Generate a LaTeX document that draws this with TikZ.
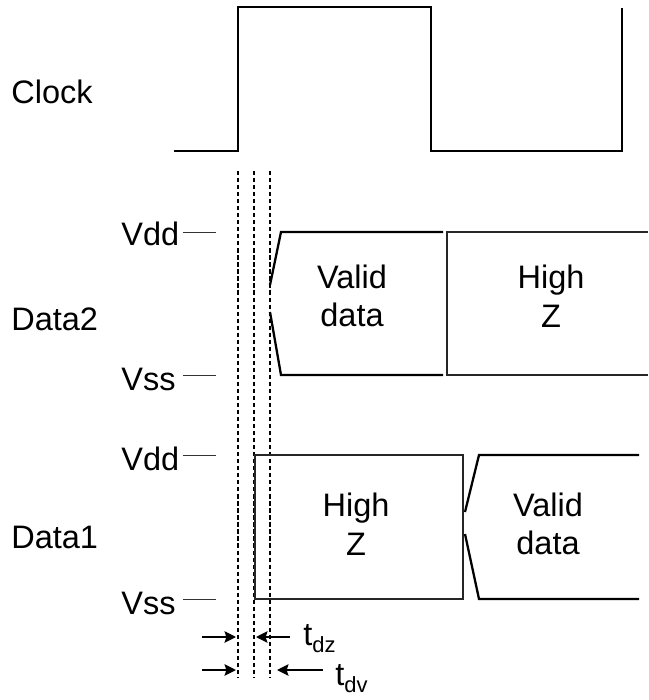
\documentclass[tikz,border=0pt]{standalone}
\usepackage{fontspec}
\setmainfont{Liberation Sans}
\usetikzlibrary{arrows.meta}

\newcommand{\tlabel}[1]{t\raisebox{-4.5pt}{\fontsize{12.5}{13}\selectfont #1}}

\begin{document}
\begin{tikzpicture}[
    x=0.02cm, y=-0.02cm,
    every node/.style={font=\fontsize{18.5}{22}\selectfont, inner sep=0pt},
    wave/.style={line width=1.3pt, line join=miter},
    hiz/.style={line width=0.8pt, black!85},
    lvl/.style={line width=0.5pt, black!80},
    guide/.style={line width=0.8pt, dash pattern=on 2.4pt off 1.6pt},
    meas/.style={line width=1.2pt, -{Stealth[length=6.5pt, width=6.5pt, inset=1pt]}},
    txt/.style={align=center},
]
\useasboundingbox (0,0) rectangle (649,700);

% Signal names
\node[anchor=west] (clk) at (11,92) {Clock};
\node[anchor=west] (dtwo) at (11,319) {Data2};
\node[anchor=west] (done) at (11,537) {Data1};

% Level marks
\node[anchor=west] (vddtwo) at (121,234) {Vdd};
\node[anchor=west] (vsstwo) at (121,379) {Vss};
\node[anchor=west] (vddone) at (121,459) {Vdd};
\node[anchor=west] (vssone) at (121,603) {Vss};
\draw[lvl] (183,232) -- (216,232);
\draw[lvl] (183,375) -- (216,375);
\draw[lvl] (183,455) -- (216,455);
\draw[lvl] (183,599) -- (216,599);

% Clock
\draw[wave] (174,151) -- (238,151) -- (238,7) -- (431,7) -- (431,151)
    -- (622,151) -- (622,8);

% Timing guides
\coordinate (ga) at (238,171);
\coordinate (gb) at (254,171);
\coordinate (gc) at (270,171);
\coordinate (gaend) at (238,678);
\coordinate (gbend) at (254,678);
\coordinate (gcend) at (270,678);
\draw[guide] (ga) -- (gaend);
\draw[guide] (gb) -- (gbend);
\draw[guide] (gc) -- (gcend);

% Data2: valid data, then high Z
\draw[wave] (443,232) -- (281,232) -- (270,285);
\draw[wave] (270,312) -- (281,375) -- (443,375);
\draw[hiz] (648,232) -- (447,232) -- (447,375) -- (648,375);
\node[txt] (validtwo) at (352,296) {Valid\\data};
\node[txt] (hiztwo) at (551,296) {High\\Z};

% Data1: high Z, then valid data
\draw[hiz] (255,455) rectangle (463,599);
\draw[wave] (639,455) -- (479,455) -- (465,512);
\draw[wave] (465,534) -- (479,599) -- (639,599);
\node[txt] (hizone) at (356,524) {High\\Z};
\node[txt] (validone) at (548,524) {Valid\\data};

% Delay arrows
\coordinate (dzl) at (202,637);
\coordinate (dzr) at (290,637);
\coordinate (dvl) at (202,670);
\coordinate (dvr) at (323,670);
\draw[meas] (dzl) -- (236,637);
\draw[meas] (dzr) -- (256,637);
\draw[meas] (dvl) -- (236,670);
\draw[meas] (dvr) -- (277,670);
\node[anchor=base west] (tdz) at (303,645) {\tlabel{dz}};
\node[anchor=base west] (tdv) at (335,685) {\tlabel{dv}};
\end{tikzpicture}
\end{document}
